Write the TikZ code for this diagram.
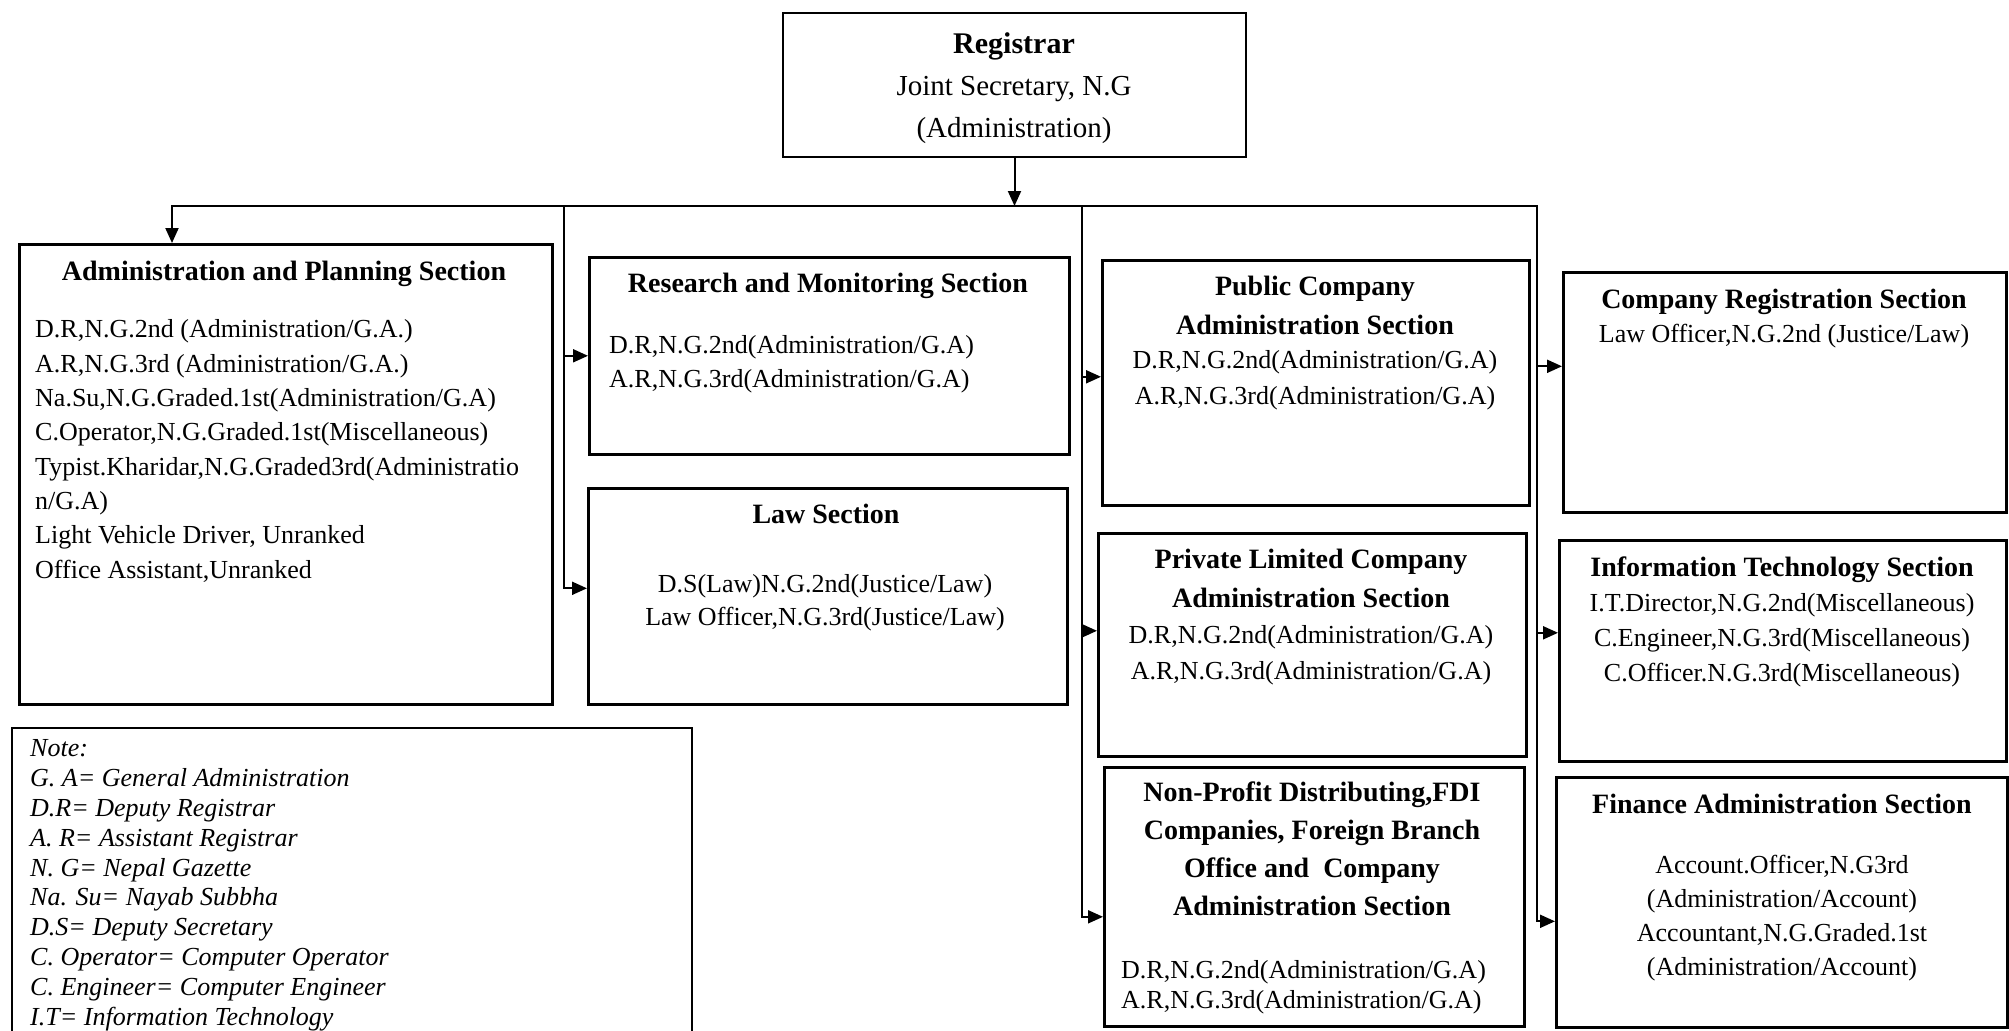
\documentclass[tikz,border=0pt]{standalone}
\usepackage{fontspec}
\setmainfont{Liberation Serif}
\usetikzlibrary{positioning, arrows.meta}

\begin{document}
\begin{tikzpicture}[
    x=1pt, y=-1pt,
    secbox/.style={draw, line width=2.6pt, inner sep=0pt, anchor=north west},
    head/.style={font=\fontsize{28}{38}\selectfont\bfseries, align=center, inner sep=0pt, anchor=base},
    staff/.style={font=\fontsize{26}{34}\selectfont, align=center, inner sep=0pt, anchor=base},
    link/.style={line width=2pt, line cap=rect, -{Triangle[length=15pt, width=13pt]}},
    trunk/.style={line width=2pt, line cap=rect}
  ]
  \useasboundingbox (0,0) rectangle (2009,1030);
  \clip (0,0) rectangle (2009,1030);

%% text nodes are placed by the baseline of their last line

%% head of the office
  \node[secbox, line width=2pt, minimum width=463pt, minimum height=144pt] (reg) at (782,12) {};
  \node[staff, font=\fontsize{29}{42}\selectfont] (regtext) at (1014,137)
    {{\bfseries\fontsize{30}{42}\selectfont Registrar}\\Joint Secretary, N.G\\(Administration)};

%% first column
  \node[secbox, minimum width=533pt, minimum height=460pt] (plan) at (18,243) {};
  \node[head] (planhead) at (284,280) {Administration and Planning Section};
  \node[staff, align=left, anchor=base west, font=\fontsize{26}{34.3}\selectfont] (planstaff) at (35,578)
    {D.R,N.G.2nd (Administration/G.A.)\\A.R,N.G.3rd (Administration/G.A.)\\
     Na.Su,N.G.Graded.1st(Administration/G.A)\\C.Operator,N.G.Graded.1st(Miscellaneous)\\
     Typist.Kharidar,N.G.Graded3rd(Administratio\\n/G.A)\\
     Light Vehicle Driver, Unranked\\Office Assistant,Unranked};

  \node[secbox, line width=2.2pt, minimum width=680pt, minimum height=340pt] (note) at (11,727) {};
  \node[staff, align=left, anchor=base west, font=\fontsize{26}{29.8}\selectfont\itshape] (notetext) at (30,1025)
    {Note:\\G. A= General Administration\\D.R= Deputy Registrar\\A. R= Assistant Registrar\\
     N. G= Nepal Gazette\\Na. Su= Nayab Subbha\\D.S= Deputy Secretary\\
     C. Operator= Computer Operator\\C. Engineer= Computer Engineer\\I.T= Information Technology};

%% second column
  \node[secbox, minimum width=480pt, minimum height=197pt] (monitor) at (588,256) {};
  \node[head] (monitorhead) at (828,292) {Research and Monitoring Section};
  \node[staff, align=left, anchor=base west] (monitorstaff) at (609,387)
    {D.R,N.G.2nd(Administration/G.A)\\A.R,N.G.3rd(Administration/G.A)};

  \node[secbox, minimum width=479pt, minimum height=216pt] (law) at (587,487) {};
  \node[head] (lawhead) at (826,523) {Law Section};
  \node[staff, font=\fontsize{26}{33}\selectfont] (lawstaff) at (825,625)
    {D.S(Law)N.G.2nd(Justice/Law)\\Law Officer,N.G.3rd(Justice/Law)};

%% third column
  \node[secbox, minimum width=427pt, minimum height=245pt] (public) at (1101,259) {};
  \node[head, font=\fontsize{28}{39}\selectfont\bfseries] (publichead) at (1315,334)
    {Public Company\\Administration Section};
  \node[staff, font=\fontsize{26}{36}\selectfont] (publicstaff) at (1315,404)
    {D.R,N.G.2nd(Administration/G.A)\\A.R,N.G.3rd(Administration/G.A)};

  \node[secbox, minimum width=428pt, minimum height=223pt] (private) at (1097,532) {};
  \node[head, font=\fontsize{28}{39}\selectfont\bfseries] (privatehead) at (1311,607)
    {Private Limited Company\\Administration Section};
  \node[staff, font=\fontsize{26}{36}\selectfont] (privatestaff) at (1311,679)
    {D.R,N.G.2nd(Administration/G.A)\\A.R,N.G.3rd(Administration/G.A)};

  \node[secbox, minimum width=420pt, minimum height=259pt] (nonprofit) at (1103,766) {};
  \node[head, font=\fontsize{28}{37.7}\selectfont\bfseries] (nonprofithead) at (1312,915)
    {Non-Profit Distributing,FDI\\Companies, Foreign Branch\\Office and\ \ Company\\Administration Section};
  \node[staff, align=left, anchor=base west, font=\fontsize{26}{30}\selectfont] (nonprofitstaff) at (1121,1008)
    {D.R,N.G.2nd(Administration/G.A)\\A.R,N.G.3rd(Administration/G.A)};

%% fourth column
  \node[secbox, minimum width=443pt, minimum height=240pt] (compreg) at (1562,271) {};
  \node[head] (compreghead) at (1784,308) {Company Registration Section};
  \node[staff] (compregstaff) at (1784,342) {Law Officer,N.G.2nd (Justice/Law)};

  \node[secbox, minimum width=447pt, minimum height=221pt] (infotech) at (1558,539) {};
  \node[head] (infotechhead) at (1782,576) {Information Technology Section};
  \node[staff, font=\fontsize{26}{35}\selectfont] (infotechstaff) at (1782,681)
    {I.T.Director,N.G.2nd(Miscellaneous)\\C.Engineer,N.G.3rd(Miscellaneous)\\C.Officer.N.G.3rd(Miscellaneous)};

  \node[secbox, minimum width=451pt, minimum height=250pt] (finance) at (1555,776) {};
  \node[head] (financehead) at (1782,813) {Finance Administration Section};
  \node[staff] (financestaff) at (1782,975)
    {Account.Officer,N.G3rd\\(Administration/Account)\\Accountant,N.G.Graded.1st\\(Administration/Account)};

%% bus and branches
  \coordinate (b0) at (172,206);
  \coordinate (b1) at (564,206);
  \coordinate (b2) at (1082,206);
  \coordinate (b3) at (1537,206);
  \coordinate (lawin) at ([yshift=8pt]law.west);
  \coordinate (publicin) at ([yshift=6pt]public.west);
  \coordinate (privatein) at ([yshift=14pt]private.west);
  \coordinate (nonprofitin) at ([yshift=-20pt]nonprofit.west);
  \coordinate (compregin) at ([yshift=26pt]compreg.west);
  \coordinate (infotechin) at ([yshift=18pt]infotech.west);
  \coordinate (financein) at ([yshift=-19pt]finance.west);

  \draw[link] (reg.south) -- (reg.south |- b0);
  \draw[trunk] (b3) -- (b0);
  \draw[link] (b0) -- (b0 |- plan.north);

  \draw[link] (b1) |- (lawin);
  \draw[link] (b1 |- monitor.west) -- (monitor.west);

  \draw[link] (b2) |- (nonprofitin);
  \draw[link] (publicin -| b2) -- (publicin);
  \draw[link] (privatein -| b2) -- (privatein);

  \draw[link] (b3) |- (financein);
  \draw[link] (compregin -| b3) -- (compregin);
  \draw[link] (infotechin -| b3) -- (infotechin);

\end{tikzpicture}
\end{document}
